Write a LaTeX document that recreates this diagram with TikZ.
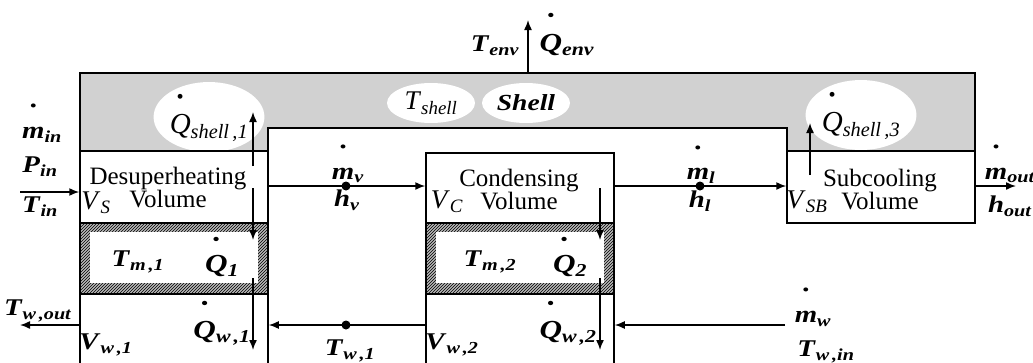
\documentclass[tikz,border=0pt]{standalone}
\usepackage{fontspec}
\setmainfont{Liberation Serif}
\newfontfamily\lblfont[FakeStretch=1.2]{Liberation Serif}
\usepackage{amsmath,graphicx}
\usetikzlibrary{patterns,calc,arrows.meta,shapes.geometric}

\newcommand{\bi}[1]{\textbf{\textit{#1}}}
\newcommand{\dotover}[2][3pt]{$\overset{\raisebox{#1}{\scalebox{.7}{\textbullet}}}{\mbox{#2}}$}

\tikzset{
  vol/.style={draw,line width=1.5pt,minimum width=188pt,inner sep=0pt},
  wall/.style={vol,fill=black!28,postaction={pattern=north east lines}},
  flow/.style={line width=1.5pt,-{Latex[length=10pt,width=8pt]}},
  lbl/.style={font=\lblfont\fontsize{24}{26}\selectfont,inner sep=0pt},
  qlbl/.style={font=\lblfont\fontsize{26}{28}\selectfont,inner sep=0pt},
  txt/.style={font=\fontsize{25}{23}\selectfont,align=center,inner sep=0pt},
  blob/.style={ellipse,fill=white,inner sep=0pt},
}

\begin{document}
\begin{tikzpicture}[x=1pt,y=-1pt]
  \useasboundingbox (0,0) rectangle (1033,362);
  % shell
  \draw[line width=1.5pt,fill=black!18] (80,73) -- (975,73) -- (975,151) -- (787,151)
    -- (787,128) -- (268,128) -- (268,151) -- (80,151) -- cycle;
  \node[blob,minimum width=88pt,minimum height=40pt] (tshell) at (431,103)
    {\fontsize{27}{28}\selectfont\textit{T}\textsubscript{\textit{shell}}};
  \node[blob,minimum width=88pt,minimum height=40pt] (shell) at (526,103)
    {\lblfont\fontsize{23}{24}\selectfont\bi{Shell}};
  \node[blob,minimum width=95pt,minimum height=60pt] (qs1) at (209,117)
    {\fontsize{29}{30}\selectfont\dotover[5pt]{\textit{Q}}\textsubscript{\textit{shell\,,1}}};
  \node[blob,minimum width=98pt,minimum height=56pt] (qs3) at (861,115)
    {\fontsize{29}{30}\selectfont\dotover[5pt]{\textit{Q}}\textsubscript{\textit{shell\,,3}}};

  % volumes
  \node[vol,fill=white,minimum height=72pt] (desup) at (174,187) {};
  \node[vol,fill=white,minimum height=70pt] (cond) at (520,188) {};
  \node[vol,fill=white,minimum height=72pt] (subc) at (881,187) {};
  \node[wall,minimum height=71pt] (wall1) at (174,258.5) {};
  \node[wall,minimum height=71pt] (wall2) at (520,258.5) {};
  \fill[white] ($(wall1.south west)+(11,-12)$) rectangle ($(wall1.north east)+(-11,10)$);
  \fill[white] ($(wall2.south west)+(11,-12)$) rectangle ($(wall2.north east)+(-11,10)$);
  \node[vol,minimum height=72pt] (water1) at (174,330) {};
  \node[vol,minimum height=72pt] (water2) at (520,330) {};

  \node[txt] (tdesup) at (168,188) {Desuperheating\\Volume};
  \node[txt] (tcond) at (519,190) {Condensing\\Volume};
  \node[txt] (tsubc) at (880,190) {Subcooling\\Volume};
  \node[txt] (vs) at (96,203) {\fontsize{27}{28}\selectfont\textit{V}\textsubscript{\textit{S}}};
  \node[txt] (vc) at (447,202) {\fontsize{27}{28}\selectfont\textit{V}\textsubscript{\textit{C}}};
  \node[txt] (vsb) at (807,202) {\fontsize{27}{28}\selectfont\textit{V}\textsubscript{\textit{SB}}};

  % refrigerant flow
  \coordinate (rin) at (20,192);
  \draw[flow] (rin) -- (rin -| desup.west);
  \coordinate (rv) at (346,186);
  \draw[flow] (desup.east |- rv) -- (cond.west |- rv);
  \fill (rv) circle (4.5pt);
  \coordinate (rl) at (700,186);
  \draw[flow] (cond.east |- rl) -- (subc.west |- rl);
  \fill (rl) circle (4.5pt);
  \coordinate (rout) at (1016,186);
  \draw[flow] (subc.east |- rout) -- (rout);

  % heat flows
  \coordinate (env) at (528,20);
  \draw[flow] (env |- shell.north) ++(0,-10) -- (env);
  \coordinate (qa1) at (253,166);
  \draw[flow] (qa1) -- ++(0,-54);
  \coordinate (qa3) at (810,175);
  \draw[flow] (qa3) -- ++(0,-52);
  \coordinate (q1a) at (253,188);
  \draw[flow] (q1a) -- (q1a |- 0,240);
  \coordinate (q1b) at (253,278);
  \draw[flow] (q1b) -- (q1b |- 0,350);
  \coordinate (q2a) at (600,188);
  \draw[flow] (q2a) -- (q2a |- 0,240);
  \coordinate (q2b) at (600,278);
  \draw[flow] (q2b) -- (q2b |- 0,350);

  % water flow
  \coordinate (win) at (785,325);
  \coordinate (wout) at (20,325);
  \draw[flow] (win) -- (win -| water2.east);
  \draw[flow] (water2.west |- win) -- (water1.east |- win);
  \fill (346,325) circle (4.5pt);
  \draw[flow] (water1.west |- win) -- (wout);

  % labels
  \node[lbl] (lmin) at (42,122) {\dotover[11pt]{\bi{m}}\textsubscript{\bi{in}}};
  \node[lbl] (lpin) at (40,167) {\bi{P}\textsubscript{\bi{in}}};
  \node[lbl] (ltin) at (40,207) {\bi{T}\textsubscript{\bi{in}}};
  \node[lbl] (ltenv) at (495,46) {\bi{T}\textsubscript{\bi{env}}};
  \node[qlbl] (lqenv) at (567,33) {\dotover[8pt]{\bi{Q}}\textsubscript{\bi{env}}};
  \node[lbl] (lmv) at (348,163) {\dotover[10pt]{\bi{m}}\textsubscript{\bi{v}}};
  \node[lbl] (lhv) at (347,200) {\bi{h}\textsubscript{\bi{v}}};
  \node[lbl] (lml) at (701,163) {\dotover[10pt]{\bi{m}}\textsubscript{\bi{l}}};
  \node[lbl] (lhl) at (700,201) {\bi{h}\textsubscript{\bi{l}}};
  \node[lbl] (lmout) at (1010,163) {\dotover[10pt]{\bi{m}}\textsubscript{\bi{out}}};
  \node[lbl] (lhout) at (1010,206) {\bi{h}\textsubscript{\bi{out}}};
  \node[lbl] (ltm1) at (138,262) {\bi{T}\textsubscript{\bi{m\,,1}}};
  \node[qlbl] (lq1) at (222,256) {\dotover[5pt]{\bi{Q}}\textsubscript{\bi{1}}};
  \node[lbl] (ltm2) at (490,262) {\bi{T}\textsubscript{\bi{m\,,2}}};
  \node[qlbl] (lq2) at (570,256) {\dotover[5pt]{\bi{Q}}\textsubscript{\bi{2}}};
  \node[qlbl] (lqw1) at (222,322) {\dotover[7pt]{\bi{Q}}\textsubscript{\bi{w\,,1}}};
  \node[qlbl] (lqw2) at (568,322) {\dotover[7pt]{\bi{Q}}\textsubscript{\bi{w\,,2}}};
  \node[lbl] (ltwout) at (38,311) {\bi{T}\textsubscript{\bi{w\,,out}}};
  \node[lbl] (lvw1) at (106,345) {\bi{V}\textsubscript{\bi{w\,,1}}};
  \node[lbl] (lvw2) at (452,345) {\bi{V}\textsubscript{\bi{w\,,2}}};
  \node[lbl] (ltw1) at (350,351) {\bi{T}\textsubscript{\bi{w\,,1}}};
  \node[lbl] (lmw) at (813,306) {\dotover[11pt]{\bi{m}}\textsubscript{\bi{w}}};
  \node[lbl] (ltwin) at (826,352) {\bi{T}\textsubscript{\bi{w\,,in}}};
\end{tikzpicture}
\end{document}
